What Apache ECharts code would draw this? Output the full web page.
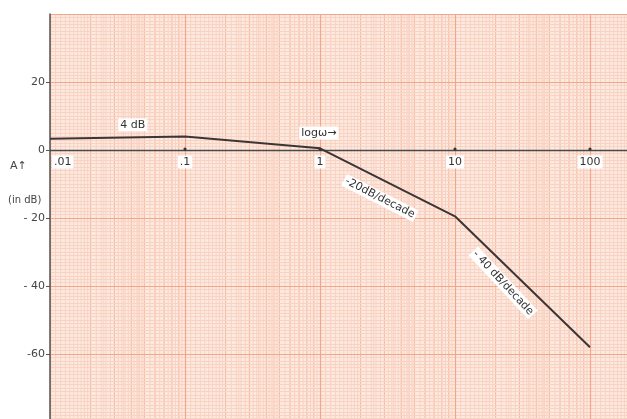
<!DOCTYPE html>
<html><head><meta charset="utf-8">
<script src="https://cdn.jsdelivr.net/npm/echarts@6/dist/echarts.min.js"></script>
<style>html,body{margin:0;padding:0;background:#fff}#c{width:627px;height:419px}</style>
</head><body><div id="c"></div>
<script>
// Asymptotic Bode magnitude plot
const omega = [0.01, 0.1, 1, 10, 100];
const gainDb = [3.3, 4, 0.5, -19.5, -58];
const xTickValues = [0.01, 0.1, 1, 10, 100];
const xTickLabels = ['.01', '.1', '1', '10', '100'];
const yTickValues = [20, 0, -20, -40, -60];
const yTickLabels = ['20', '0', '- 20', '- 40', '-60'];
const noteTexts = ['4 dB', 'log\u03c9\u2192', '-20dB/decade', '- 40 dB/decade'];
const noteOmega = [0.041, 0.98, 2.78, 22.7];
const noteDb = [7.4, 5, -14.1, -39.1];
const noteAngle = [0, 0, 27, 47];

// graph-paper rulings (log cycles on x)
const paperLines = [];
for (let d = -2; d <= 2; d++) {
  for (let k = 11; k < 100; k++) {
    if (!(k < 20 || (k < 50 && k % 2 === 0) || k % 5 === 0)) continue;
    const w = k / 10 * Math.pow(10, d);
    if (w > 188) continue;
    paperLines.push([w, k % 10 === 0 ? 1 : 0]);
  }
}

const chart = echarts.init(document.getElementById('c'));
const majorC = '#f2a68a', medC = '#f5b79d', minorC = '#f9d2c2';
const option = {
  animation: false,
  backgroundColor: '#ffffff',
  grid: { left: 50, top: 14, width: 577, height: 408, show: true, backgroundColor: '#fce9e0', borderWidth: 0,
    outerBoundsMode: 'none', containLabel: false },
  xAxis: {
    type: 'log', logBase: 10, min: 0.01, max: 188, z: 3,
    axisLine: { onZero: true, lineStyle: { color: '#4a4a4a', width: 1.3 } },
    axisTick: { show: false },
    axisLabel: { show: false },
    splitLine: { show: true, lineStyle: { color: majorC, width: 1.2 } },
    minorTick: { show: false }, minorSplitLine: { show: false }
  },
  yAxis: [{
    type: 'value', min: -80, max: 40, interval: 20, z: 3,
    axisLine: { show: true, onZero: false, lineStyle: { color: '#555', width: 1.5 } },
    axisTick: { show: true, length: 4, lineStyle: { color: '#555' } },
    axisLabel: {
      color: '#444', fontSize: 11, fontFamily: 'DejaVu Sans', margin: 5,
      showMinLabel: false, showMaxLabel: false,
      formatter: v => { const i = yTickValues.indexOf(v); return i >= 0 ? yTickLabels[i] : ''; }
    },
    splitLine: { show: true, lineStyle: { color: majorC, width: 1.2 } },
    minorTick: { show: false, splitNumber: 20 },
    minorSplitLine: { show: true, lineStyle: { color: minorC, width: 1 } }
  }, {
    type: 'value', min: -80, max: 40, interval: 10, position: 'left', z: 2,
    axisLine: { show: false }, axisTick: { show: false }, axisLabel: { show: false },
    splitLine: { show: true, lineStyle: { color: medC, width: 1 } }
  }],
  series: [{
    type: 'custom', silent: true, z: 1,
    data: paperLines,
    encode: { x: 0, y: 1 },
    renderItem: (params, api) => {
      const x = api.coord([api.value(0), 0])[0];
      const cs = params.coordSys;
      return { type: 'line', shape: { x1: x, y1: cs.y, x2: x, y2: cs.y + cs.height },
        style: { stroke: api.value(1) ? medC : minorC, lineWidth: 1 } };
    }
  }, {
    type: 'line', z: 5,
    data: omega.map((w, i) => [w, gainDb[i]]),
    symbol: 'none',
    lineStyle: { color: '#3b3535', width: 2 }
  }]
};
chart.setOption(option);

const font = '11px "DejaVu Sans"';
const graphics = noteTexts.map((t, i) => {
  const p = chart.convertToPixel({ gridIndex: 0 }, [noteOmega[i], noteDb[i]]);
  return { type: 'text', x: p[0], y: p[1], rotation: -noteAngle[i] * Math.PI / 180, z: 10,
    style: { text: t, font: font, fill: '#333', align: 'center', verticalAlign: 'middle',
      backgroundColor: '#ffffff', padding: [1, 2] } };
});
// x tick labels and tick dots on the 0 dB axis
xTickValues.forEach((v, i) => {
  const p = chart.convertToPixel({ gridIndex: 0 }, [v, 0]);
  graphics.push({ type: 'text', x: p[0] + (i === 0 ? 2 : 0), y: p[1] + 12, z: 10,
    style: { text: xTickLabels[i], font: font, fill: '#333', align: i === 0 ? 'left' : 'center',
      verticalAlign: 'middle', backgroundColor: '#ffffff', padding: [1, 2] } });
  if (i > 0) graphics.push({ type: 'circle', z: 10, shape: { cx: p[0], cy: p[1] - 1, r: 1.6 },
    style: { fill: '#333' } });
});
graphics.push({ type: 'text', x: 10, y: 166, z: 10,
  style: { text: 'A\u2191', font: font, fill: '#444', verticalAlign: 'middle' } });
graphics.push({ type: 'text', x: 8, y: 200, z: 10,
  style: { text: '(in dB)', font: '10px "DejaVu Sans"', fill: '#444', verticalAlign: 'middle' } });
chart.setOption({ graphic: graphics });
</script>
</body></html>
